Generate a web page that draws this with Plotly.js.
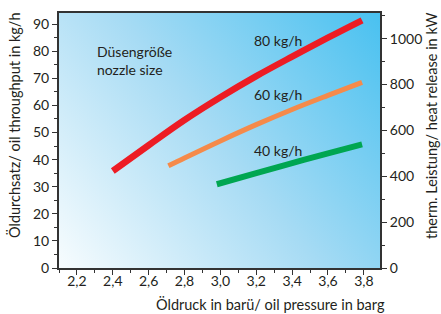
<!DOCTYPE html>
<html>
<head>
<meta charset="utf-8">
<script src="https://cdn.plot.ly/plotly-3.0.1.min.js"></script>
<style>html,body{margin:0;padding:0;background:#fff}#chart{width:441px;height:314px}</style>
</head>
<body>
<div id="chart"></div>
<script>
// Data
const pressure80 = [2.4, 2.6, 2.8, 3.0, 3.2, 3.4, 3.6, 3.79];
const flow80     = [35.8, 45.3, 54.6, 63.0, 70.8, 78.0, 85.0, 91.4];
const pressure60 = [2.71, 2.8, 3.0, 3.2, 3.4, 3.6, 3.79];
const flow60     = [37.7, 40.6, 46.9, 52.9, 58.5, 63.7, 68.5];
const pressure40 = [2.98, 3.2, 3.4, 3.6, 3.79];
const flow40     = [30.9, 35.0, 38.7, 42.3, 45.6];
const seriesLabels = ["80 kg/h", "60 kg/h", "40 kg/h"];
const labelX = [3.32, 3.32, 3.32];
const labelY = [83.8, 64.0, 43.4];
const xTicks = [2.2, 2.4, 2.6, 2.8, 3.0, 3.2, 3.4, 3.6, 3.8];
const xTickText = ["2,2", "2,4", "2,6", "2,8", "3,0", "3,2", "3,4", "3,6", "3,8"];
const yTicks = [0, 10, 20, 30, 40, 50, 60, 70, 80, 90];
const y2Ticks = [0, 200, 400, 600, 800, 1000];

const FONT = "Lato, 'Liberation Sans', sans-serif";
const TXT = "#231F20";
const AX = "#333333";

// plot area in pixels
const L = 59, R = 61, T = 13, B = 46, W = 441, H = 314;
const pw = W - L - R, ph = H - T - B;
const px2x = p => (p - L) / pw;
const px2y = p => (H - B - p) / ph;

// background gradient image
const cv = document.createElement("canvas");
cv.width = pw; cv.height = ph;
const ctx = cv.getContext("2d");
const g = ctx.createLinearGradient(0, ph, pw, 0);
g.addColorStop(0, "#F7FCFE");
g.addColorStop(0.5, "#A6DBF4");
g.addColorStop(1, "#49C1F0");
ctx.fillStyle = g;
ctx.fillRect(0, 0, pw, ph);
const bgURL = cv.toDataURL("image/png");

const yMax = 94.1;
const kWperKg = 11.82;

const lineStyle = (c, w) => ({color: c, width: w, shape: "spline", smoothing: 1});
const traces = [
  {x: pressure80, y: flow80, mode: "lines", line: lineStyle("#ED1C24", 6.5), hoverinfo: "skip"},
  {x: pressure60, y: flow60, mode: "lines", line: lineStyle("#F58A4A", 5), hoverinfo: "skip"},
  {x: pressure40, y: flow40, mode: "lines", line: lineStyle("#00A651", 6), hoverinfo: "skip"},
  {x: [2.5], y: [0], yaxis: "y2", mode: "markers", marker: {opacity: 0}, hoverinfo: "skip"}
];

const annotations = seriesLabels.map((t, i) => ({
  x: labelX[i], y: labelY[i], xref: "x", yref: "y", text: t, showarrow: false,
  font: {family: FONT, size: 14, color: TXT}, xanchor: "center", yanchor: "middle"
}));
annotations.push({
  x: 2.3, y: 76.7, xref: "x", yref: "y", text: "Düsengröße<br>nozzle size", showarrow: false,
  align: "left", xanchor: "left", yanchor: "middle", font: {family: FONT, size: 14, color: TXT}
});
annotations.push({
  x: px2x(387), y: px2y(304), xref: "paper", yref: "paper", xanchor: "right", yanchor: "middle",
  text: "Öldruck in barü/ oil pressure in barg",
  showarrow: false, font: {family: FONT, size: 14.5, color: TXT}
});
annotations.push({
  x: px2x(14), y: px2y(125), xref: "paper", yref: "paper", xanchor: "center", yanchor: "middle",
  textangle: -90, text: "Öldurchsatz/ oil throughput in kg/h",
  showarrow: false, font: {family: FONT, size: 14.5, color: TXT}
});
annotations.push({
  x: px2x(431), y: px2y(125), xref: "paper", yref: "paper", xanchor: "center", yanchor: "middle",
  textangle: -90, text: "therm. Leistung/ heat release in kW",
  showarrow: false, font: {family: FONT, size: 14.5, color: TXT}
});

const layout = {
  width: W, height: H,
  margin: {l: L, r: R, t: T, b: B, pad: 0},
  paper_bgcolor: "#ffffff",
  plot_bgcolor: "rgba(0,0,0,0)",
  showlegend: false,
  images: [{source: bgURL, xref: "paper", yref: "paper", x: 0, y: 1, sizex: 1, sizey: 1,
            sizing: "stretch", layer: "below", xanchor: "left", yanchor: "top"}],
  xaxis: {
    range: [2.1, 3.89], tickvals: xTicks, ticktext: xTickText, ticks: "outside", ticklen: 5,
    tickwidth: 1, tickcolor: AX, showline: true, linecolor: AX, linewidth: 2, mirror: true,
    showgrid: false, zeroline: false, tickfont: {family: FONT, size: 14, color: TXT},
    ticklabelstandoff: -6,
    minor: {dtick: 0.1, tick0: 2.1, ticks: "outside", ticklen: 3, tickcolor: AX, showgrid: false}
  },
  yaxis: {
    range: [0, yMax], tickvals: yTicks, ticks: "outside", ticklen: 5, tickwidth: 1, tickcolor: AX,
    showline: true, linecolor: AX, linewidth: 2, showgrid: false, zeroline: false,
    tickfont: {family: FONT, size: 14, color: TXT},
    minor: {dtick: 5, tick0: 0, ticks: "outside", ticklen: 3, tickcolor: AX, showgrid: false}
  },
  yaxis2: {
    overlaying: "y", side: "right", range: [0, yMax * kWperKg], tickvals: y2Ticks,
    ticks: "outside", ticklen: 5, tickwidth: 1, tickcolor: AX, showline: true, linecolor: AX,
    linewidth: 2, showgrid: false, zeroline: false, tickfont: {family: FONT, size: 14, color: TXT},
    minor: {dtick: 100, tick0: 0, ticks: "outside", ticklen: 3, tickcolor: AX, showgrid: false}
  },
  annotations: annotations
};

Plotly.newPlot("chart", traces, layout, {staticPlot: true});
</script>
</body>
</html>
